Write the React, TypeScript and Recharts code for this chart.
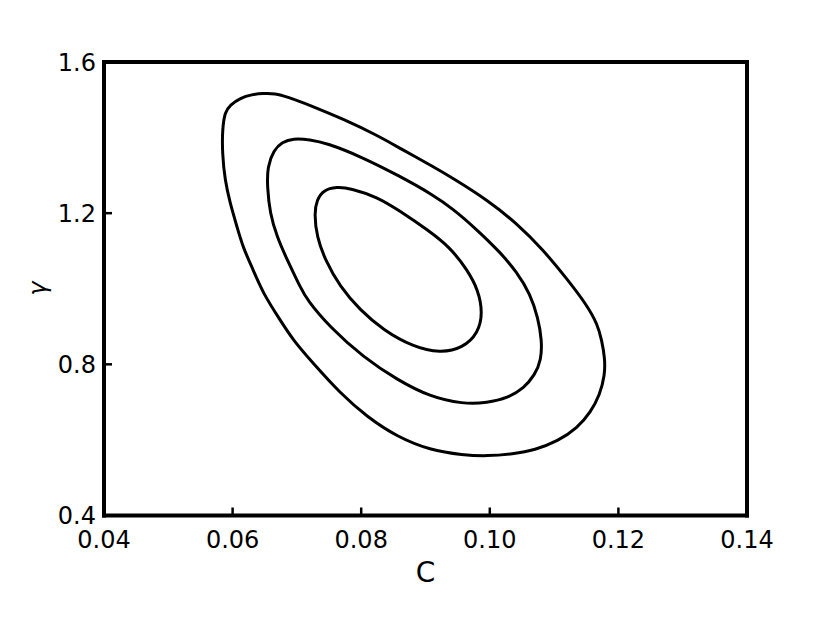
import React from 'react';
import { ComposedChart, Line, XAxis, YAxis } from 'recharts';

// Contour levels (C, gamma); each list is a closed loop
const outerContour: [number, number][] = [
  [0.0772, 1.449], [0.0825, 1.406], [0.086, 1.372], [0.0912, 1.323], [0.0943, 1.292],
  [0.0996, 1.235], [0.1042, 1.173], [0.1083, 1.103], [0.112, 1.026], [0.1151, 0.957],
  [0.1168, 0.904], [0.1174, 0.864], [0.1179, 0.817], [0.1179, 0.772], [0.1171, 0.719],
  [0.1157, 0.674], [0.1136, 0.631], [0.1106, 0.597], [0.107, 0.573], [0.1036, 0.563],
  [0.0996, 0.557], [0.0958, 0.56], [0.0907, 0.573], [0.0856, 0.608], [0.0809, 0.661],
  [0.0767, 0.724], [0.0725, 0.803], [0.0694, 0.864], [0.0674, 0.917], [0.0647, 0.989],
  [0.0632, 1.05], [0.0616, 1.11], [0.0607, 1.163], [0.0596, 1.227], [0.0588, 1.288],
  [0.0584, 1.359], [0.0584, 1.42], [0.0588, 1.468], [0.0596, 1.486], [0.0612, 1.505],
  [0.063, 1.514], [0.0647, 1.517], [0.0666, 1.517], [0.0685, 1.508], [0.072, 1.486],
];

const middleContour: [number, number][] = [
  [0.0798, 1.351], [0.086, 1.298], [0.0912, 1.248], [0.0943, 1.211], [0.0977, 1.161],
  [0.1016, 1.097], [0.1042, 1.044], [0.1063, 0.986], [0.1075, 0.923], [0.1081, 0.864],
  [0.108, 0.811], [0.107, 0.772], [0.1053, 0.737], [0.1028, 0.711], [0.0996, 0.698],
  [0.0958, 0.695], [0.0907, 0.714], [0.0856, 0.759], [0.0803, 0.819], [0.0751, 0.899],
  [0.0716, 0.97], [0.0705, 1.005], [0.0685, 1.076], [0.0669, 1.137], [0.0658, 1.2],
  [0.0654, 1.269], [0.0654, 1.322], [0.0664, 1.367], [0.0677, 1.388], [0.0694, 1.398],
  [0.072, 1.395], [0.0747, 1.385],
];

const innerContour: [number, number][] = [
  [0.0904, 1.155], [0.0938, 1.11], [0.0965, 1.05], [0.0982, 0.997], [0.0989, 0.936],
  [0.0982, 0.883], [0.0958, 0.843], [0.0923, 0.83], [0.0881, 0.846], [0.0834, 0.891],
  [0.0798, 0.944], [0.0767, 1.005], [0.0744, 1.076], [0.0731, 1.137], [0.0727, 1.2],
  [0.0731, 1.235], [0.0741, 1.261], [0.0762, 1.27], [0.0783, 1.266], [0.0825, 1.243],
  [0.086, 1.206],
];

const xTicks = [0.04, 0.06, 0.08, 0.1, 0.12, 0.14];
const yTicks = [0.4, 0.8, 1.2, 1.6];
const xLabel = 'C';
const yLabel = 'γ';

const toRows = (pts: [number, number][]) => pts.map(([c, g]) => ({ c, g }));

const FONT = '"DejaVu Sans", sans-serif';
const frame = { stroke: '#000', strokeWidth: 4, strokeLinecap: 'square' as const };
const tickLn = { stroke: '#000', strokeWidth: 2.5 };
const tickText = { fill: '#000', fontSize: 24, fontFamily: FONT };

export default function App() {
  const contours = [outerContour, middleContour, innerContour];
  return (
    <div style={{ position: 'absolute', left: 0, top: 0, width: 830, height: 623, background: '#fff' }}>
      <ComposedChart
        width={830}
        height={623}
        margin={{ top: 52, right: 73, bottom: 37.5, left: 44 }}
      >
        <XAxis
          xAxisId="b"
          dataKey="c"
          type="number"
          domain={[0.04, 0.14]}
          ticks={xTicks}
          allowDataOverflow
          height={70}
          axisLine={frame}
          tickLine={tickLn}
          tickSize={-8}
          tickMargin={23}
          tick={tickText}
          tickFormatter={(v: number) => v.toFixed(2)}
          interval={0}
          label={({ viewBox }: any) => (
            <text
              x={viewBox ? viewBox.x + viewBox.width / 2 : 425.5}
              y={582}
              textAnchor="middle"
              fontSize={28}
              fontFamily={FONT}
              fill="#000"
            >
              {xLabel}
            </text>
          )}
        />
        <XAxis
          xAxisId="t"
          orientation="top"
          type="number"
          domain={[0.04, 0.14]}
          ticks={xTicks}
          allowDataOverflow
          height={10}
          axisLine={frame}
          tickLine={tickLn}
          tickSize={-8}
          tick={false}
          interval={0}
        />
        <YAxis
          yAxisId="l"
          dataKey="g"
          type="number"
          domain={[0.4, 1.6]}
          ticks={yTicks}
          allowDataOverflow
          width={60}
          axisLine={frame}
          tickLine={tickLn}
          tickSize={-8}
          tickMargin={16}
          tick={tickText}
          tickFormatter={(v: number) => v.toFixed(1)}
          interval={0}
          label={({ viewBox }: any) => {
            const cy = viewBox ? viewBox.y + viewBox.height / 2 : 289;
            return (
              <text
                x={38}
                y={cy}
                transform={`rotate(-90 38 ${cy})`}
                textAnchor="middle"
                dominantBaseline="central"
                fontSize={24}
                fontStyle="italic"
                fontFamily={FONT}
                fill="#000"
              >
                {yLabel}
              </text>
            );
          }}
        />
        <YAxis
          yAxisId="r"
          orientation="right"
          type="number"
          domain={[0.4, 1.6]}
          ticks={yTicks}
          allowDataOverflow
          width={10}
          axisLine={frame}
          tickLine={tickLn}
          tickSize={-8}
          tick={false}
          interval={0}
        />
        {contours.map((pts, i) => (
          <Line
            key={i}
            xAxisId="b"
            yAxisId="l"
            data={toRows(pts)}
            dataKey="g"
            type="basisClosed"
            stroke="#000"
            strokeWidth={3}
            dot={false}
            activeDot={false}
            isAnimationActive={false}
          />
        ))}
      </ComposedChart>
    </div>
  );
}
